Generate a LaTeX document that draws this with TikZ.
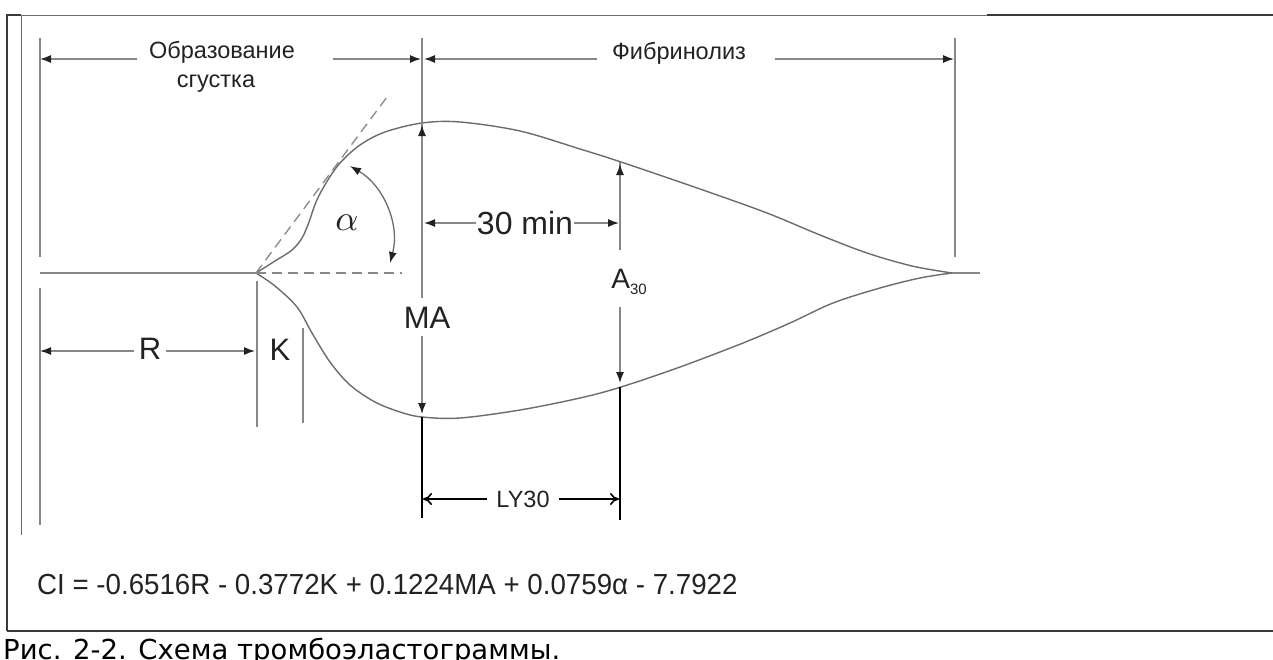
\documentclass[tikz,border=0pt]{standalone}
\usepackage{fontspec}
\setmainfont{Liberation Sans}
\newfontfamily\capfont{DejaVu Sans}
\usetikzlibrary{arrows.meta}
\definecolor{ln}{HTML}{8C8786}
\definecolor{cv}{HTML}{6F6B6A}
\definecolor{tx}{HTML}{222222}
\definecolor{fr}{HTML}{3A3A3A}
\tikzset{
  frame/.style={draw=fr, line width=2pt},
  thinframe/.style={draw=ln!80!black, line width=0.9pt},
  dim/.style={draw=ln, line width=1.3pt},
  curve/.style={draw=cv, line width=1.4pt},
  dsh/.style={draw=ln, line width=1.3pt, dash pattern=on 10pt off 6pt},
  blk/.style={draw=black, line width=2.4pt},
  tipF/.style={-{Latex[length=11pt,width=8pt,color=tx]}},
  tipO/.style={-{To[length=9pt,width=12pt,line width=1.6pt]}},
  lbl/.style={text=tx, inner sep=0pt},
}
\begin{document}
\begin{tikzpicture}[x=1pt,y=-1pt]
\useasboundingbox (0,0) rectangle (1273,659);

% frame
\draw[frame] (7,631) -- (7,15) -- (21,15);
\draw[thinframe] (21,15) -- (987,15);
\draw[frame] (987,15) -- (1273,15);
\draw[frame] (7,631) -- (1273,631);
\draw[thinframe] (21,15) -- (21,535);

% key points
\coordinate (O) at (256,273);
\coordinate (T) at (952,273);
\coordinate (MAtop) at (422,123);
\coordinate (MAbot) at (422,417);
\coordinate (Aup) at (620,162);
\coordinate (Alo) at (620,387);

% vertical boundaries
\draw[dim] (40,38) -- (40,257);
\draw[dim] (40,288) -- (40,525);
\draw[dim] (955,38) -- (955,257);
\draw[dim] (257,281) -- (257,427);
\draw[dim] (303,328) -- (303,423);

% baseline
\draw[dim] (40,273) -- (O);
\draw[dim] (T) -- (980,273);

% top dimension labels
\node[lbl, anchor=base, font=\fontsize{23.5}{26}\selectfont] (obr) at (222,58) {Образование};
\node[lbl, anchor=base, font=\fontsize{23.5}{26}\selectfont] (sg) at (216,87) {сгустка};
\node[lbl, anchor=base, font=\fontsize{23.5}{26}\selectfont] (fib) at (679,59) {Фибринолиз};
\coordinate (d1) at (40,59);
\coordinate (d1a) at (137,59);
\coordinate (d1b) at (333,59);
\coordinate (d2) at (421,59);
\coordinate (d3) at (424,59);
\coordinate (d3a) at (597,59);
\coordinate (d3b) at (775,59);
\coordinate (d4) at (954,59);
\draw[dim, tipF] (d1a) -- (d1);
\draw[dim, tipF] (d1b) -- (d2);
\draw[dim, tipF] (d3a) -- (d3);
\draw[dim, tipF] (d3b) -- (d4);

% thromboelastogram trace
\draw[curve] plot[smooth, tension=0.55] coordinates {(256,273) (275,261) (292,250) (302,238) (309,222) (316,202) (326,183) (340,163) (360,145) (385,132) (422,123) (460,122) (520,131) (580,149) (621,162) (700,189) (767,213) (820,235) (867,253) (912,266) (952,273)};
\draw[curve] plot[smooth, tension=0.55] coordinates {(256,273) (275,286) (297,307) (312,333) (330,362) (350,385) (375,402) (400,412) (422,417) (460,418) (520,410) (580,398) (621,387) (680,367) (743,343) (790,323) (833,303) (880,288) (920,278) (952,273)};

% tangent and horizontal dashed
\coordinate (tg) at (387,97);
\coordinate (hz) at (402,273);
\draw[dsh] (O) -- (tg);
\draw[dsh] (O) -- (hz);

% alpha
\coordinate (a1) at (350,166);
\coordinate (a2) at (390,263);
\draw[dim, draw=cv, {Latex[length=11pt,width=8pt,color=tx]}-{Latex[length=11pt,width=8pt,color=tx]}] (a1) .. controls (383.6,185.6) and (400.2,224.5) .. (a2);
\node[lbl] (alpha) at (347,223) {\scalebox{3.6}{$\alpha$}};

% MA
\node[lbl, font=\fontsize{31}{33}\selectfont] (MA) at (427,318) {MA};
\draw[dim] (422,38) -- (422,298);
\draw[dim, tipF] (422,298) -- (422,125);
\draw[dim, tipF] (422,336) -- (422,414);

% 30 min
\node[lbl, inner xsep=1pt, font=\fontsize{32}{34}\selectfont] (m30) at (525,223) {30 min};
\coordinate (m30l) at (424,223);
\coordinate (m30r) at (619,223);
\draw[dim, tipF] (m30.west) -- (m30l);
\draw[dim, tipF] (m30.east) -- (m30r);

% A30
\node[lbl, font=\fontsize{28}{30}\selectfont] (A30) at (629,282) {A{\fontsize{15}{15}\selectfont\raisebox{-6pt}{30}}};
\coordinate (A30a) at (620,250);
\coordinate (A30b) at (620,307);
\draw[dim] (620,162) -- (A30a);
\draw[dim, tipF] (A30a) -- (620,164);
\draw[dim, tipF] (A30b) -- (620,383);

% R and K
\node[lbl, inner xsep=5pt, font=\fontsize{31}{33}\selectfont] (R) at (150,349) {R};
\coordinate (Rl) at (40,351);
\coordinate (Rr) at (255,351);
\draw[dim, tipF] (R.west |- Rl) -- (Rl);
\draw[dim, tipF] (R.east |- Rr) -- (Rr);
\node[lbl, font=\fontsize{31}{33}\selectfont] (K) at (280,350) {K};

% LY30
\draw[blk] (MAbot) -- (422,518);
\draw[blk] (Alo) -- (620,520);
\node[lbl, inner xsep=9pt, font=\fontsize{23.5}{26}\selectfont] (LY) at (523,499) {LY30};
\coordinate (LYl) at (423,499);
\coordinate (LYr) at (619,499);
\draw[draw=black, line width=2pt, tipO] (LY.west) -- (LYl);
\draw[draw=black, line width=2pt, tipO] (LY.east) -- (LYr);

% formula
\node[lbl, anchor=base west, font=\fontsize{29}{32}\selectfont] (CI) at (37,594) {\scalebox{0.955}[1]{CI = -0.6516R - 0.3772K + 0.1224MA + 0.0759α - 7.7922}};

% caption
\node[lbl, anchor=base west, text=black, font=\capfont\fontsize{27.5}{30}\selectfont] (cap) at (3,659) {Рис. 2-2. Схема тромбоэластограммы.};
\end{tikzpicture}
\end{document}
